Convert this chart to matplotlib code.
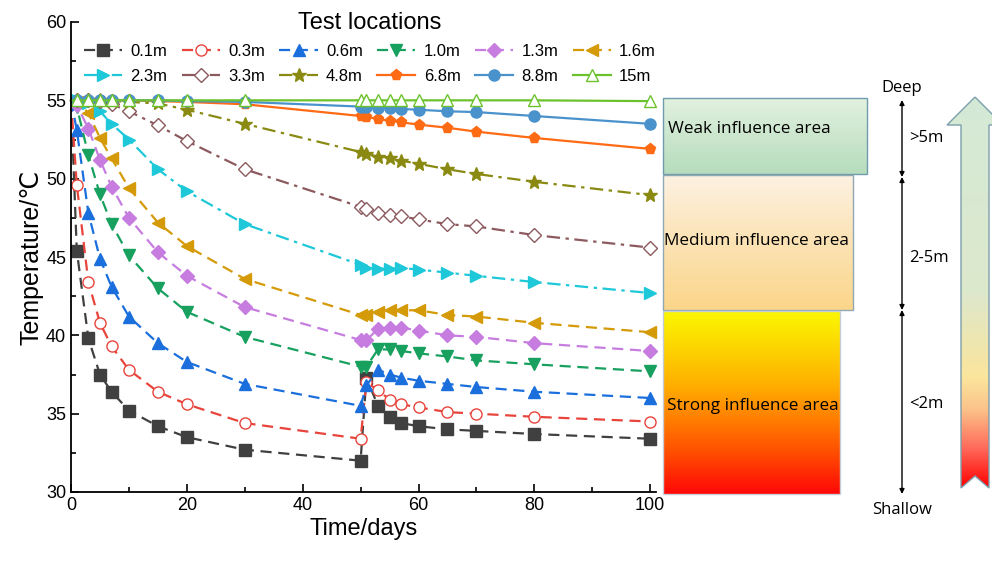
import numpy as np
import matplotlib.pyplot as plt
from matplotlib.patches import Polygon, Rectangle
from matplotlib.colors import LinearSegmentedColormap
from matplotlib.ticker import MultipleLocator

plt.rcParams['font.family'] = ['Liberation Sans', 'DejaVu Sans']

# time of each reading (days)
days = [0, 1, 3, 5, 7, 10, 15, 20, 30, 50, 51, 53, 55, 57, 60, 65, 70, 80, 100]

# temperature at each test location (deg C)
t01 = [55, 45.4, 39.8, 37.5, 36.4, 35.2, 34.2, 33.5, 32.7, 32.0, 37.3, 35.5, 34.8, 34.4, 34.2, 34.0, 33.9, 33.7, 33.4]
t03 = [55, 49.6, 43.4, 40.8, 39.3, 37.8, 36.4, 35.6, 34.4, 33.4, 37.0, 36.5, 35.9, 35.6, 35.4, 35.1, 35.0, 34.8, 34.5]
t06 = [55, 53.1, 47.8, 44.9, 43.1, 41.2, 39.5, 38.3, 36.9, 35.5, 36.8, 37.8, 37.5, 37.3, 37.1, 36.9, 36.7, 36.4, 36.0]
t10 = [55, 54.6, 51.5, 49.0, 47.1, 45.1, 43.0, 41.5, 39.9, 38.0, 38.0, 39.1, 39.1, 39.0, 38.85, 38.65, 38.4, 38.15, 37.7]
t13 = [55, 54.7, 53.2, 51.2, 49.5, 47.5, 45.3, 43.8, 41.8, 39.7, 39.7, 40.4, 40.5, 40.5, 40.3, 40.0, 39.9, 39.5, 39.0]
t16 = [55, 54.9, 54.2, 52.6, 51.3, 49.4, 47.2, 45.7, 43.6, 41.3, 41.3, 41.5, 41.6, 41.6, 41.6, 41.3, 41.2, 40.8, 40.2]
t23 = [55, 55.0, 54.8, 54.3, 53.5, 52.5, 50.6, 49.2, 47.1, 44.5, 44.3, 44.25, 44.25, 44.3, 44.2, 44.0, 43.8, 43.4, 42.7]
t33 = [55, 55.0, 55.0, 54.95, 54.75, 54.3, 53.4, 52.4, 50.6, 48.2, 48.05, 47.8, 47.7, 47.6, 47.4, 47.1, 46.95, 46.4, 45.6]
t48 = [55, 55.0, 55.0, 55.0, 54.95, 54.9, 54.8, 54.4, 53.5, 51.7, 51.6, 51.4, 51.3, 51.15, 50.95, 50.6, 50.3, 49.8, 48.95]
t68 = [55, 55.0, 55.0, 55.0, 55.0, 55.0, 54.95, 54.9, 54.75, 54.0, 53.95, 53.8, 53.7, 53.6, 53.45, 53.25, 53.0, 52.6, 51.9]
t88 = [55, 55.0, 55.0, 55.0, 55.0, 55.0, 55.0, 54.95, 54.9, 54.6, 54.6, 54.5, 54.5, 54.45, 54.4, 54.3, 54.25, 54.0, 53.5]
t150 = [55, 55.0, 55.0, 55.0, 55.0, 55.0, 55.0, 55.0, 55.0, 55.0, 55.0, 55.0, 55.0, 55.0, 55.0, 55.0, 55.0, 55.0, 54.95]

series = [t01, t03, t06, t10, t13, t16, t23, t33, t48, t68, t88, t150]
labels = ['0.1m', '0.3m', '0.6m', '1.0m', '1.3m', '1.6m', '2.3m', '3.3m', '4.8m', '6.8m', '8.8m', '15m']
colors = ['#404040', '#e8443c', '#1a6fdc', '#17a05e', '#c67ddf', '#d49a08',
          '#1ec8d8', '#8c5a5e', '#8a8a12', '#ff6a14', '#4a92cc', '#6cc22c']
markers = ['s', 'o', '^', 'v', 'D', '<', '>', 'D', '*', 'p', 'o', '^']
hollow = [False, True, False, False, False, False, False, True, False, False, False, True]
dash = (0, (5, 3))
dashdot = (0, (6, 2.5, 1.5, 2.5))
styles = [dash, dash, dash, dash, dash, dash, dashdot, dashdot, dashdot, '-', '-', '-']

fig = plt.figure(figsize=(9.92, 5.61), dpi=100)
ax = fig.add_axes([71/992, 1-492/561, 585/992, 470/561])

handles = []
for y, lab, c, m, h, ls in zip(series, labels, colors, markers, hollow, styles):
    ms = 7 if m == 'D' else (10 if m == '*' else 8)
    ln, = ax.plot(days, y, color=c, linestyle=ls, lw=1.6, marker=m, ms=ms,
                  markerfacecolor='white' if h else c, markeredgecolor=c,
                  markeredgewidth=1.0, markevery=range(1, len(days)), label=lab,
                  clip_on=False)
    handles.append(ln)

ax.set_xlim(0, 101)
ax.set_ylim(30, 60)
ax.xaxis.set_major_locator(MultipleLocator(20))
ax.xaxis.set_minor_locator(MultipleLocator(10))
ax.yaxis.set_major_locator(MultipleLocator(5))
ax.yaxis.set_minor_locator(MultipleLocator(2.5))
ax.tick_params(which='both', direction='in', labelsize=13, width=1.2)
ax.tick_params(which='major', length=6)
ax.tick_params(which='minor', length=3.5)
for s in ['top', 'right']:
    ax.spines[s].set_visible(False)
for s in ['left', 'bottom']:
    ax.spines[s].set_linewidth(1.3)
ax.set_xlabel('Time/days', fontsize=17, labelpad=3)
ax.set_ylabel('Temperature/℃', fontsize=18, labelpad=2)

# legend fills column by column, so interleave the two rows
order = [0, 6, 1, 7, 2, 8, 3, 9, 4, 10, 5, 11]
leg = ax.legend([handles[i] for i in order], [labels[i] for i in order], ncol=6,
                loc='upper center', bbox_to_anchor=(370/992, 1-5/561),
                bbox_transform=fig.transFigure, frameon=False, fontsize=12,
                title='Test locations', title_fontsize=17, handlelength=2.3,
                handletextpad=0.5, columnspacing=0.85, labelspacing=0.6,
                borderaxespad=0, numpoints=1)

# annotation layer in pixel coordinates
ov = fig.add_axes([0, 0, 1, 1], zorder=3)
ov.axis('off')


def vgrad(x0, x1, y0, y1, stops, clip=None):
    cmap = LinearSegmentedColormap.from_list('g', stops)
    g = np.linspace(0, 1, 256).reshape(-1, 1)
    im = ov.imshow(g, cmap=cmap, extent=(x0, x1, y1, y0), origin='upper',
                   aspect='auto', interpolation='bilinear')
    if clip is not None:
        im.set_clip_path(clip)
    return im


# influence boxes
vgrad(663, 867, 98, 174, ['#e2f1df', '#b6dcbd'])
ov.add_patch(Rectangle((663, 98), 204, 76, fill=False, ec='#6f9cac', lw=1.0))
vgrad(663, 853, 175, 310, ['#fdf1e2', '#fce3b4', '#fbd58a'])
ov.add_patch(Rectangle((663, 175), 190, 135, fill=False, ec='#8fa8b4', lw=1.0))
vgrad(663, 840, 311, 494, [(0, '#fbf800'), (0.4, '#ffb000'), (0.75, '#ff5500'), (1, '#ff0808')])
ov.add_patch(Rectangle((663, 311), 177, 183, fill=False, ec='#c8ccd4', lw=1.0))

afont = ['Open Sans', 'DejaVu Sans']
ov.text(668, 129, 'Weak influence area', fontsize=12.3, va='center', family=afont)
ov.text(664, 241, 'Medium influence area', fontsize=12.3, va='center', family=afont)
ov.text(667, 406, 'Strong influence area', fontsize=12.3, va='center', family=afont)

# depth scale
for ya, yb in [(100, 177), (177, 310), (310, 494)]:
    ov.annotate('', xy=(902, ya), xytext=(902, yb),
                arrowprops=dict(arrowstyle='<|-|>', color='black', lw=1.0,
                                mutation_scale=7, shrinkA=0, shrinkB=0))
ov.text(902, 88, 'Deep', fontsize=12, ha='center', va='center', family=afont)
ov.text(902, 510, 'Shallow', fontsize=12, ha='center', va='center', family=afont)
ov.text(909, 138, '>5m', fontsize=12, va='center', family=afont)
ov.text(909, 258, '2-5m', fontsize=12, va='center', family=afont)
ov.text(909, 404, '<2m', fontsize=12, va='center', family=afont)

# big gradient arrow on the right
pts = [(975, 97), (1003, 125), (989, 125), (989, 488), (975, 476),
       (961, 488), (961, 125), (947, 125)]
arrow = Polygon(pts, closed=True, fill=False, ec='#7d9eac', lw=1.0)
ov.add_patch(arrow)
vgrad(947, 1003, 97, 488, [(0, '#d4ead6'), (0.5, '#dde8cc'), (0.72, '#fbe59c'),
                           (0.8, '#fcc28a'), (0.9, '#ff6a5a'), (1, '#ff0000')], clip=arrow)

ov.set_xlim(0, 992)
ov.set_ylim(561, 0)

fig.savefig('out.png', dpi=100)
